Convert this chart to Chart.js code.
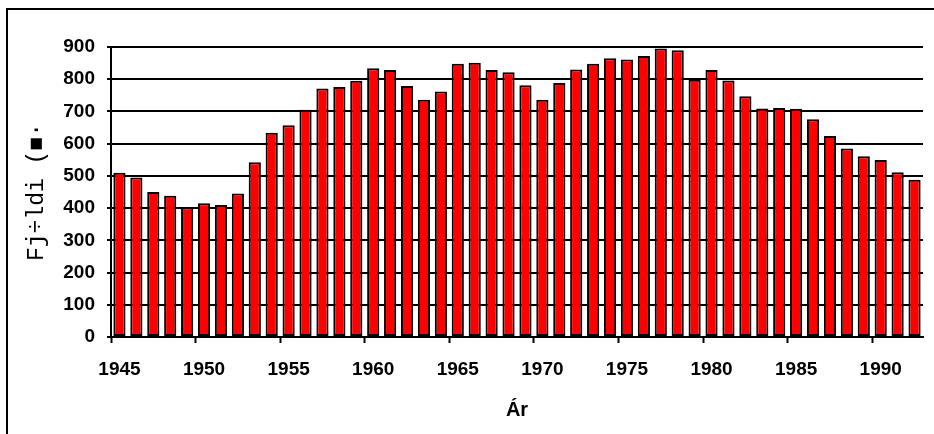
<!DOCTYPE html>
<html>
<head>
<meta charset="utf-8">
<script src="https://cdn.jsdelivr.net/npm/chart.js@4/dist/chart.umd.min.js"></script>
<style>
  html, body { margin: 0; padding: 0; background: #fff; }
  #wrap { position: relative; width: 934px; height: 434px; overflow: hidden; }
  #frame { position: absolute; left: 6px; top: 8px; width: 1000px; height: 1000px;
           border-left: 2px solid #000; border-top: 2px solid #000; }
  #charts { position: absolute; left: 0; top: 0; }
</style>
</head>
<body>
<div id="wrap">
  <div id="frame"></div>
  <canvas id="charts" width="934" height="434"></canvas>
</div>
<script>
const years = [];
for (let y = 1945; y <= 1992; y++) years.push(String(y));

const counts = [
  510, 495, 450, 438, 402, 415, 410, 445, 542, 634,
  657, 705, 771, 776, 795, 834, 829, 779, 736, 762,
  848, 851, 829, 822, 781, 736, 788, 830, 848, 865,
  861, 872, 895, 890, 798, 829, 796, 747, 709, 711,
  708, 676, 624, 585, 561, 549, 511, 488
];

const yTitle = "Fj÷ldi (■·";
const xTitle = "Ár";

const tickFont = { family: "'Liberation Sans', Arial, sans-serif", size: 19, weight: "bold" };

new Chart("charts", {
    type: "bar",
    data: {
        labels: years,
        datasets: [{
            data: counts,
            backgroundColor: "#ff0000",
            borderColor: "#000",
            borderWidth: 2,
            borderSkipped: false,
            barPercentage: 0.72,
            categoryPercentage: 1
        }]
    },
    options: {
        responsive: false,
        animation: false,
        layout: { padding: { left: 0, right: 11, top: 47, bottom: 0 } },
        plugins: { legend: { display: false }, tooltip: { enabled: false } },
        scales: {
            x: {
                offset: true,
                grid: {
                    offset: true,
                    drawOnChartArea: false,
                    tickLength: 6,
                    tickWidth: 2,
                    tickColor: ctx => ctx.index % 5 === 0 ? "#000" : "rgba(0,0,0,0)"
                },
                border: { color: "#000", width: 2 },
                ticks: {
                    autoSkip: false,
                    maxRotation: 0,
                    padding: 15,
                    color: "#000",
                    font: tickFont,
                    callback: function (v, i) { return i % 5 === 0 ? years[i] : ""; }
                },
                title: {
                    display: true,
                    text: xTitle,
                    color: "#000",
                    font: { family: "'Liberation Sans', Arial, sans-serif", size: 20, weight: "bold" },
                    padding: { top: 0, bottom: 12 }
                },
                afterFit: s => { s.height = 97; }
            },
            y: {
                min: 0,
                max: 900,
                grid: {
                    color: "#000",
                    lineWidth: 2,
                    tickLength: 4,
                    tickColor: "#000"
                },
                border: { color: "#000", width: 2 },
                ticks: {
                    stepSize: 100,
                    padding: 12,
                    color: "#000",
                    font: tickFont
                },
                title: {
                    display: true,
                    text: yTitle,
                    color: "#000",
                    font: { family: "'Liberation Mono', 'Courier New', 'DejaVu Sans Mono', monospace", size: 23 },
                    padding: { top: 23, bottom: 0 }
                },
                afterFit: s => { s.width = 111; }
            }
        }
    }
});
</script>
</body>
</html>
